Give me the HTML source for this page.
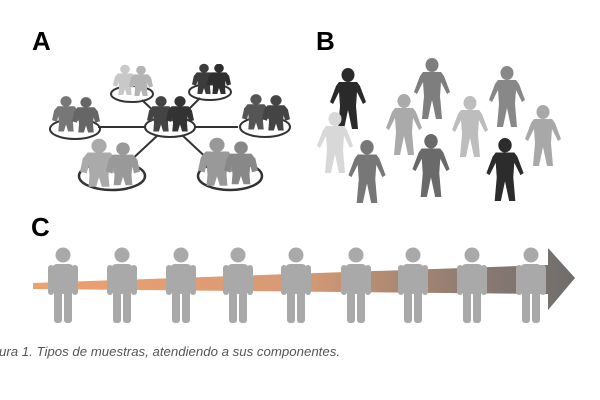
<!DOCTYPE html>
<html><head><meta charset="utf-8"><style>
html,body{margin:0;padding:0;background:#fff;width:600px;height:400px;overflow:hidden}
svg{display:block}
</style></head><body>
<svg width="600" height="400" viewBox="0 0 600 400" xmlns="http://www.w3.org/2000/svg">
<defs>
<symbol id="cp" viewBox="0 0 32 76">
<circle cx="16" cy="8" r="7.5"/>
<rect x="5" y="17" width="22" height="30" rx="5"/>
<rect x="1" y="18" width="6" height="30" rx="3"/>
<rect x="25" y="18" width="6" height="30" rx="3"/>
<rect x="7" y="38" width="8" height="38" rx="3"/>
<rect x="17" y="38" width="8" height="38" rx="3"/>
</symbol>
<symbol id="bp" viewBox="0 0 40 62">
<ellipse cx="20" cy="7" rx="6.5" ry="7"/>
<path d="M11 14 L29 14 L32 18 L38 34 L35 36 L29 24 L28 38 L30 61 L24 61 L20 42 L16 61 L10 61 L12 38 L11 24 L5 36 L2 34 L8 18 Z"/>
</symbol>
<symbol id="ap" viewBox="0 0 40 50">
<ellipse cx="20" cy="7" rx="8" ry="7.5"/>
<path d="M8 14 L32 14 L37 20 L40 34 L33 36 L31 28 L30 38 L31 50 L23 50 L20 40 L17 50 L9 50 L10 38 L9 28 L7 36 L0 34 L3 20 Z"/>
</symbol>
<linearGradient id="ag" x1="0" x2="1">
<stop offset="0" stop-color="#f0a070"/><stop offset="0.5" stop-color="#d59a74"/><stop offset="0.8" stop-color="#8e7c72"/><stop offset="1" stop-color="#6f6d6c"/>
</linearGradient>
</defs>

<!-- A -->
<text x="32" y="50" font-family="Liberation Sans, sans-serif" font-weight="bold" font-size="26" fill="#000">A</text>
<g stroke="#333" stroke-width="2" fill="none">
<line x1="98" y1="127" x2="146" y2="127"/>
<line x1="195" y1="127" x2="238" y2="127"/>
<line x1="142" y1="100" x2="160" y2="117"/>
<line x1="200" y1="98" x2="182" y2="116"/>
<line x1="158" y1="135" x2="128" y2="163"/>
<line x1="182" y1="135" x2="212" y2="163"/>
<ellipse cx="170" cy="127" rx="25" ry="10"/>
<ellipse cx="132" cy="94" rx="21" ry="8"/>
<ellipse cx="210" cy="92" rx="21" ry="8"/>
<ellipse cx="75" cy="129" rx="25" ry="10"/>
<ellipse cx="265" cy="127" rx="25" ry="10"/>
<ellipse cx="112" cy="176" rx="33" ry="14" stroke-width="2.5"/>
<ellipse cx="230" cy="176" rx="32" ry="14" stroke-width="2.5"/>
</g>
<g>
<use href="#ap" x="113" y="64" width="24" height="32" fill="#c8c8c8"/><use href="#ap" x="129" y="66" width="24" height="30" fill="#b4b4b4"/>
<use href="#ap" x="192" y="63" width="24" height="32" fill="#3c3c3c"/><use href="#ap" x="207" y="64" width="24" height="30" fill="#2e2e2e"/>
<use href="#ap" x="147" y="95" width="28" height="38" fill="#444"/><use href="#ap" x="166" y="96" width="28" height="36" fill="#333"/>
<use href="#ap" x="52" y="95" width="28" height="38" fill="#777"/><use href="#ap" x="72" y="97" width="28" height="36" fill="#666"/>
<use href="#ap" x="242" y="93" width="28" height="38" fill="#555"/><use href="#ap" x="262" y="95" width="28" height="36" fill="#444"/>
<use href="#ap" x="80" y="137" width="38" height="52" fill="#aaa"/><use href="#ap" x="106" y="140" width="34" height="48" fill="#999"/>
<use href="#ap" x="198" y="136" width="38" height="52" fill="#999"/><use href="#ap" x="224" y="139" width="34" height="48" fill="#888"/>
</g>

<!-- B -->
<text x="316" y="50" font-family="Liberation Sans, sans-serif" font-weight="bold" font-size="26" fill="#000">B</text>
<use href="#bp" x="328" y="68" width="40" height="62" fill="#2a2a2a"/>
<use href="#bp" x="412" y="58" width="40" height="62" fill="#7e7e7e"/>
<use href="#bp" x="487" y="66" width="40" height="62" fill="#888"/>
<use href="#bp" x="384" y="93" width="40" height="64" fill="#aaa"/>
<use href="#bp" x="450" y="95" width="40" height="64" fill="#bdbdbd"/>
<use href="#bp" x="523" y="104" width="40" height="64" fill="#a8a8a8"/>
<use href="#bp" x="315" y="112" width="40" height="62" fill="#d8d8d8"/>
<use href="#bp" x="346" y="140" width="42" height="64" fill="#777"/>
<use href="#bp" x="410" y="134" width="42" height="64" fill="#6a6a6a"/>
<use href="#bp" x="484" y="138" width="42" height="64" fill="#2c2c2c"/>

<!-- C -->
<text x="31" y="236" font-family="Liberation Sans, sans-serif" font-weight="bold" font-size="26" fill="#000">C</text>
<polygon points="33,283 548,265 548,248 575,278 548,310 548,294 33,289" fill="url(#ag)"/>
<g fill="#a9a9a9">
<use href="#cp" x="47" y="247" width="32" height="76"/>
<use href="#cp" x="106" y="247" width="32" height="76"/>
<use href="#cp" x="165" y="247" width="32" height="76"/>
<use href="#cp" x="222" y="247" width="32" height="76"/>
<use href="#cp" x="280" y="247" width="32" height="76"/>
<use href="#cp" x="340" y="247" width="32" height="76"/>
<use href="#cp" x="397" y="247" width="32" height="76"/>
<use href="#cp" x="456" y="247" width="32" height="76"/>
<use href="#cp" x="515" y="247" width="32" height="76"/>
</g>
<text x="-1" y="356" font-family="Liberation Sans, sans-serif" font-style="italic" font-size="12.5" fill="#555" textLength="341" lengthAdjust="spacingAndGlyphs">ura 1. Tipos de muestras, atendiendo a sus componentes.</text>
</svg>
</body></html>
